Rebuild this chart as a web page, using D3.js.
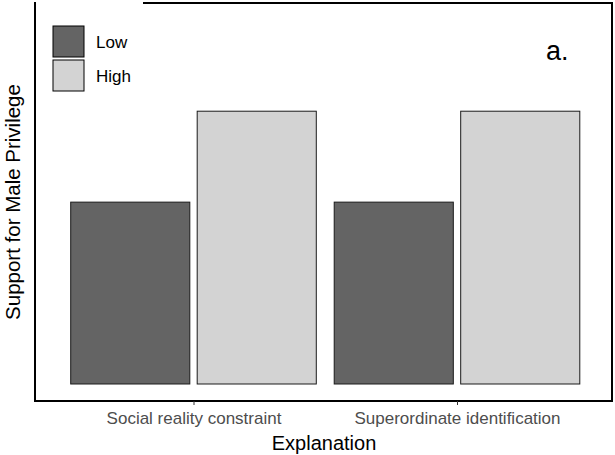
<!DOCTYPE html>
<html>
<head>
<meta charset="utf-8">
<script src="https://d3js.org/d3.v7.min.js"></script>
<style>
  body { margin: 0; background: #fff; }
  svg { display: block; font-family: "Liberation Sans", Arial, sans-serif; }
</style>
</head>
<body>
<svg id="chart" width="615" height="455"></svg>
<script>
// Explanation categories, condition levels and mean support per cell
const categories = ["Social reality constraint", "Superordinate identification"];
const levels = ["Low", "High"];
const lowValues = [2.0, 2.0];
const highValues = [3.0, 3.0];
const levelColors = ["#646464", "#d3d3d3"];

const svg = d3.select("#chart");
const frame = { left: 35, right: 612, top: 3, bottom: 401 };

// Category centres on a continuous position scale
const xCat = d3.scaleLinear().domain([1, 2]).range([193.5, 457]);
const y = d3.scaleLinear().domain([-0.187, 4.19]).range([frame.bottom, frame.top]);

const barWidth = 0.452;
const dodge = 0.24;

const data = [];
categories.forEach((c, i) => {
  data.push({ cat: c, pos: i + 1, level: "Low", li: 0, value: lowValues[i] });
  data.push({ cat: c, pos: i + 1, level: "High", li: 1, value: highValues[i] });
});

// Bars
svg.append("g").selectAll("rect")
  .data(data)
  .join("rect")
  .attr("x", d => xCat(d.pos + (d.li === 0 ? -dodge : dodge) - barWidth / 2))
  .attr("width", d => xCat(1 + barWidth) - xCat(1))
  .attr("y", d => y(d.value))
  .attr("height", d => y(0) - y(d.value))
  .attr("fill", d => levelColors[d.li])
  .attr("stroke", "#1a1a1a")
  .attr("stroke-width", 1);

// Panel border
svg.append("rect")
  .attr("x", frame.left).attr("y", frame.top)
  .attr("width", frame.right - frame.left)
  .attr("height", frame.bottom - frame.top)
  .attr("fill", "none")
  .attr("stroke", "#000")
  .attr("stroke-width", 2);

// X axis ticks and labels
const xAxis = d3.axisBottom(xCat)
  .tickValues([1, 2])
  .tickFormat((d, i) => categories[i])
  .tickSize(4)
  .tickPadding(7);
const ax = svg.append("g")
  .attr("transform", `translate(0,${frame.bottom})`)
  .call(xAxis);
ax.select(".domain").remove();
ax.selectAll(".tick line").attr("stroke", "#333").attr("stroke-width", 1);
ax.selectAll(".tick text")
  .attr("fill", "#4d4d4d")
  .attr("font-size", 17)
  .attr("font-family", "Liberation Sans, Arial, sans-serif");

// Axis titles
svg.append("text")
  .attr("x", 324)
  .attr("y", 450)
  .attr("text-anchor", "middle")
  .attr("font-size", 20)
  .attr("fill", "#000")
  .text("Explanation");

svg.append("text")
  .attr("transform", `translate(20,${(frame.top + frame.bottom) / 2}) rotate(-90)`)
  .attr("text-anchor", "middle")
  .attr("font-size", 20.5)
  .attr("fill", "#000")
  .text("Support for Male Privilege");

// Panel tag
svg.append("text")
  .attr("x", 546)
  .attr("y", 60)
  .attr("font-size", 27)
  .attr("fill", "#000")
  .text("a.");

// Legend (white background overlaps the top border)
const legend = svg.append("g");
legend.append("rect")
  .attr("x", 36).attr("y", 0)
  .attr("width", 107).attr("height", 100)
  .attr("fill", "#fff");
const keys = legend.selectAll("g.key")
  .data(levels)
  .join("g")
  .attr("class", "key")
  .attr("transform", (d, i) => `translate(53,${26 + i * 34})`);
keys.append("rect")
  .attr("width", 31).attr("height", 31)
  .attr("fill", (d, i) => levelColors[i])
  .attr("stroke", "#000")
  .attr("stroke-width", 1);
keys.append("text")
  .attr("x", 43)
  .attr("y", 22)
  .attr("font-size", 17)
  .attr("fill", "#000")
  .text(d => d);
</script>
</body>
</html>
